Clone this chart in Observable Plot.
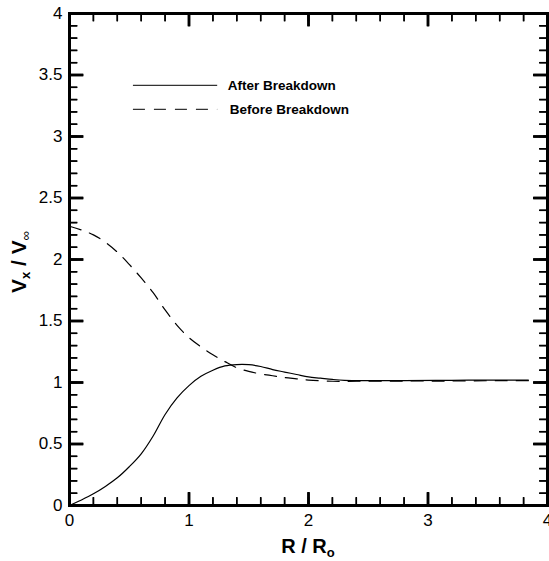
<!DOCTYPE html>
<html>
<head>
<meta charset="utf-8">
<script src="https://cdn.jsdelivr.net/npm/d3@7"></script>
<script src="https://cdn.jsdelivr.net/npm/@observablehq/plot@0.6"></script>
<style>
  html, body { margin: 0; padding: 0; background: #fff; }
  #chart svg { display: block; }
</style>
</head>
<body>
<div id="chart"></div>
<script>
// ---- data ----
const afterX = [0, 0.1, 0.2, 0.3, 0.4, 0.5, 0.6, 0.7, 0.8, 0.9, 1.0, 1.1, 1.2, 1.3, 1.4, 1.5, 1.6, 1.7, 1.8, 1.9, 2.0, 2.1, 2.2, 2.3, 2.5, 2.8, 3.2, 3.6, 3.84];
const afterY = [0, 0.045, 0.095, 0.155, 0.225, 0.315, 0.42, 0.565, 0.74, 0.875, 0.975, 1.05, 1.1, 1.135, 1.146, 1.145, 1.13, 1.105, 1.085, 1.065, 1.045, 1.035, 1.025, 1.018, 1.015, 1.015, 1.018, 1.02, 1.02];
const beforeX = [0, 0.1, 0.2, 0.3, 0.4, 0.5, 0.6, 0.7, 0.8, 0.9, 1.0, 1.1, 1.2, 1.3, 1.4, 1.5, 1.6, 1.7, 1.8, 1.9, 2.0, 2.2, 2.4, 2.8, 3.2, 3.6, 3.84];
const beforeY = [2.27, 2.24, 2.2, 2.14, 2.06, 1.96, 1.85, 1.73, 1.59, 1.465, 1.365, 1.29, 1.225, 1.17, 1.12, 1.09, 1.07, 1.055, 1.04, 1.03, 1.02, 1.01, 1.01, 1.012, 1.012, 1.015, 1.015];
const seriesNames = ["After Breakdown", "Before Breakdown"];
const xMajorTicks = [0, 1, 2, 3, 4];
const xMinorTicks = d3.range(0, 4.0001, 0.2).map(v => +v.toFixed(1));
const yMajorTicks = [0, 0.5, 1, 1.5, 2, 2.5, 3, 3.5, 4];
const yMinorTicks = d3.range(0, 4.0001, 0.1).map(v => +v.toFixed(1));

// ---- tables ----
const after = afterX.map((x, i) => ({x, y: afterY[i]}));
const before = beforeX.map((x, i) => ({x, y: beforeY[i]}));

const W = 549, H = 561;
const mL = 69, mR = 2, mT = 13, mB = 56;
const innerW = W - mL - mR, innerH = H - mT - mB;
const font = "'Liberation Sans', Arial, Helvetica, sans-serif";
const DASH = "12,9";
const INK = "#000";
const X0 = 0, X1 = 4, Y0 = 0, Y1 = 4;

// tick lengths: pixels converted to data units of the perpendicular axis
const pxY = innerH / (Y1 - Y0), pxX = innerW / (X1 - X0);
const lenXMaj = 13 / pxY, lenXMin = 8 / pxY;
const lenYMaj = 14 / pxX, lenYMin = 8 / pxX;

// legend placement (data units)
const legX1 = 0.535, legX2 = 1.24;
const legendAfter = [{name: seriesNames[0], y: 3.415}];
const legendBefore = [{name: seriesNames[1], y: 3.22}];

// inward ticks on all four sides (rule + link drawn on the same spot)
function ticksX(t, len, sw) {
  const o = {stroke: INK, strokeWidth: sw};
  return [
    Plot.ruleX(t, {x: d => d, y1: Y0, y2: Y0 + len, ...o}),
    Plot.ruleX(t, {x: d => d, y1: Y1 - len, y2: Y1, ...o}),
    Plot.link(t, {x1: d => d, x2: d => d, y1: Y0, y2: Y0 + len, ...o}),
    Plot.link(t, {x1: d => d, x2: d => d, y1: Y1 - len, y2: Y1, ...o})
  ];
}
function ticksY(t, len, sw) {
  const o = {stroke: INK, strokeWidth: sw};
  return [
    Plot.ruleY(t, {y: d => d, x1: X0, x2: X0 + len, ...o}),
    Plot.ruleY(t, {y: d => d, x1: X1 - len, x2: X1, ...o}),
    Plot.link(t, {y1: d => d, y2: d => d, x1: X0, x2: X0 + len, ...o}),
    Plot.link(t, {y1: d => d, y2: d => d, x1: X1 - len, x2: X1, ...o})
  ];
}

const chart = Plot.plot({
  width: W, height: H,
  marginLeft: mL, marginRight: mR, marginTop: mT, marginBottom: mB,
  x: {domain: [X0, X1]},
  y: {domain: [Y0, Y1]},
  style: {fontFamily: font, background: "#fff", color: INK},
  marks: [
    // curves
    Plot.line(after, {x: "x", y: "y", stroke: INK, strokeWidth: 1.2, curve: "catmull-rom"}),
    Plot.line(before, {x: "x", y: "y", stroke: INK, strokeWidth: 1.2, strokeDasharray: DASH, curve: "catmull-rom"}),
    // legend
    Plot.ruleY(legendAfter, {y: "y", x1: legX1, x2: legX2, stroke: "#333", strokeWidth: 1.2}),
    Plot.ruleY(legendBefore, {y: "y", x1: legX1, x2: legX2, stroke: "#333", strokeWidth: 1.2, strokeDasharray: DASH}),
    Plot.text(legendAfter, {x: legX2, y: "y", text: "name", textAnchor: "start", dx: 10, fontSize: 13.5, fontWeight: "bold", fill: INK}),
    Plot.text(legendBefore, {x: legX2, y: "y", text: "name", textAnchor: "start", dx: 12, fontSize: 13.5, fontWeight: "bold", fill: INK}),
    // ticks
    ...ticksX(xMinorTicks, lenXMin, 1.5),
    ...ticksX(xMajorTicks, lenXMaj, 2.5),
    ...ticksY(yMinorTicks, lenYMin, 1.5),
    ...ticksY(yMajorTicks, lenYMaj, 2.5),
    // tick labels
    Plot.axisX(xMajorTicks, {tickSize: 0, tickPadding: 8, fontSize: 17, fill: INK, tickFormat: d => String(d), label: null}),
    Plot.axisY(yMajorTicks, {tickSize: 0, tickPadding: 7, fontSize: 17, fill: INK, tickFormat: d => String(d), label: null}),
    Plot.frame({stroke: INK, strokeWidth: 3})
  ]
});

document.getElementById("chart").appendChild(chart);

// axis titles with subscripts
const svg = d3.select(chart);
const xt = svg.append("text")
  .attr("x", mL + innerW / 2).attr("y", 553)
  .attr("text-anchor", "middle")
  .attr("font-family", font).attr("font-size", 20).attr("font-weight", "bold").attr("fill", INK);
xt.append("tspan").text("R / R");
xt.append("tspan").attr("font-size", 13).attr("dy", 4).text("o");

const yt = svg.append("text")
  .attr("transform", "translate(26,262) rotate(-90)")
  .attr("text-anchor", "middle")
  .attr("font-family", font).attr("font-size", 21).attr("font-weight", "bold").attr("fill", INK);
yt.append("tspan").text("V");
yt.append("tspan").attr("font-size", 13).attr("dy", 4).text("x");
yt.append("tspan").attr("dy", -4).text(" / V");
yt.append("tspan").attr("font-size", 13).attr("font-weight", "normal").attr("dy", 4).text("∞");
</script>
</body>
</html>
